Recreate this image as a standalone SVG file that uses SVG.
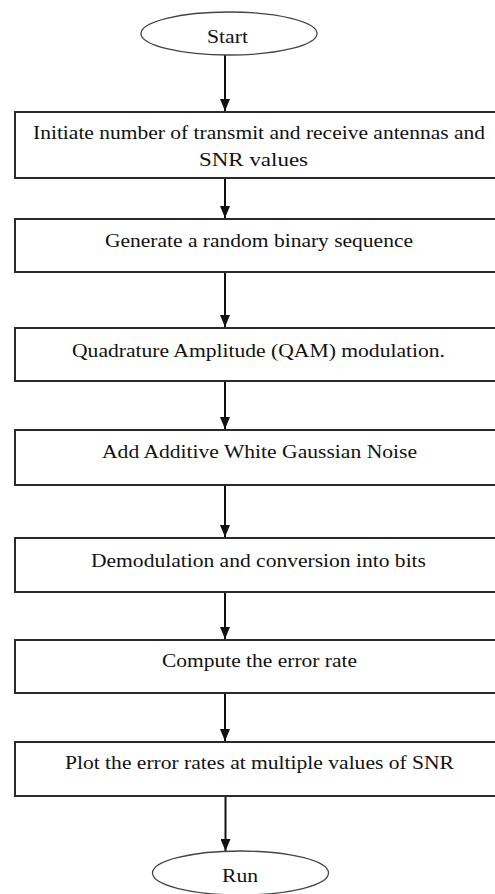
<svg xmlns="http://www.w3.org/2000/svg" width="495" height="894" viewBox="0 0 495 894">
<style>
.box{fill:#fff;stroke:#2a2a2a;stroke-width:2}
.term{fill:#fff;stroke:#444;stroke-width:1.3}
.t{font-family:"Liberation Serif","Times New Roman",serif;font-size:18.5px;fill:#111}
.c{stroke:#111;stroke-width:2;fill:none}
</style>
<defs>
<marker id="ah" markerWidth="12" markerHeight="10" refX="12" refY="5" orient="auto" markerUnits="userSpaceOnUse" viewBox="0 0 12 10">
<path d="M0,0 L12,5 L0,10 Z" fill="#111"/>
</marker>
</defs>
<rect width="495" height="894" fill="#fff"/>
<g id="connectors">
<line class="c" x1="225" y1="55" x2="225" y2="111" marker-end="url(#ah)"/>
<line class="c" x1="225" y1="179" x2="225" y2="218" marker-end="url(#ah)"/>
<line class="c" x1="225" y1="273" x2="225" y2="327" marker-end="url(#ah)"/>
<line class="c" x1="225" y1="382" x2="225" y2="429" marker-end="url(#ah)"/>
<line class="c" x1="225" y1="486" x2="225" y2="537" marker-end="url(#ah)"/>
<line class="c" x1="225" y1="593" x2="225" y2="639" marker-end="url(#ah)"/>
<line class="c" x1="225" y1="694" x2="225" y2="741" marker-end="url(#ah)"/>
<line class="c" x1="225.5" y1="797" x2="225.5" y2="851" marker-end="url(#ah)"/>
</g>
<g id="start">
<ellipse class="term" cx="229" cy="33.5" rx="88" ry="21.5"/>
<text class="t" x="207" y="43" textLength="41" lengthAdjust="spacingAndGlyphs">Start</text>
</g>
<g id="init">
<rect class="box" x="15" y="112" width="490" height="66"/>
<text class="t" x="33" y="138.5" textLength="452" lengthAdjust="spacingAndGlyphs">Initiate number of transmit and receive antennas and</text>
<text class="t" x="199" y="166" textLength="109" lengthAdjust="spacingAndGlyphs">SNR values</text>
</g>
<g id="generate">
<rect class="box" x="15" y="219" width="490" height="53"/>
<text class="t" x="105" y="247" textLength="308" lengthAdjust="spacingAndGlyphs">Generate a random binary sequence</text>
</g>
<g id="qam">
<rect class="box" x="15" y="328" width="490" height="53"/>
<text class="t" x="72" y="357" textLength="373" lengthAdjust="spacingAndGlyphs">Quadrature Amplitude (QAM) modulation.</text>
</g>
<g id="awgn">
<rect class="box" x="15" y="430" width="490" height="55"/>
<text class="t" x="102" y="458" textLength="315" lengthAdjust="spacingAndGlyphs">Add Additive White Gaussian Noise</text>
</g>
<g id="demod">
<rect class="box" x="15" y="538" width="490" height="54"/>
<text class="t" x="91" y="566.5" textLength="335" lengthAdjust="spacingAndGlyphs">Demodulation and conversion into bits</text>
</g>
<g id="error">
<rect class="box" x="15" y="640" width="490" height="53"/>
<text class="t" x="162" y="667" textLength="195" lengthAdjust="spacingAndGlyphs">Compute the error rate</text>
</g>
<g id="plot">
<rect class="box" x="15" y="742" width="490" height="54"/>
<text class="t" x="65" y="768.5" textLength="389" lengthAdjust="spacingAndGlyphs">Plot the error rates at multiple values of SNR</text>
</g>
<g id="run">
<ellipse class="term" cx="240.5" cy="873" rx="88" ry="22"/>
<text class="t" x="222" y="882" textLength="36" lengthAdjust="spacingAndGlyphs">Run</text>
</g>
</svg>
